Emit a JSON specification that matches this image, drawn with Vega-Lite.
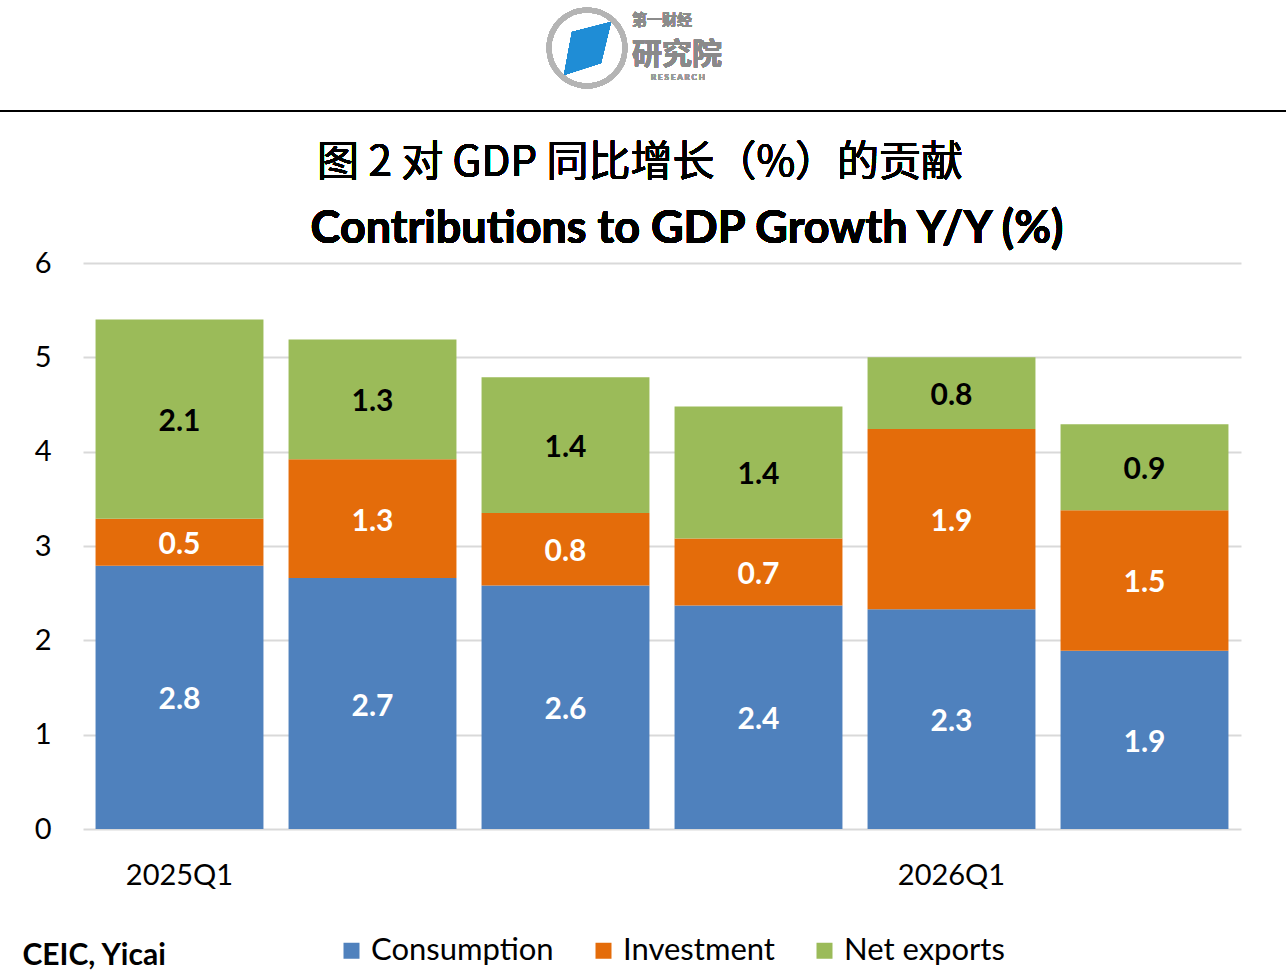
{
  "$schema": "https://vega.github.io/schema/vega-lite/v6.json",
  "autosize": {"type": "none"},
  "padding": {"left": 83, "top": 263, "right": 45, "bottom": 149},
  "width": 1158,
  "height": 566,
  "background": "white",
  "config": {
    "view": {"stroke": null},
    "font": "Lato"
  },
  "data": {
    "values": [
      {"quarter": "2025Q1", "series": "Consumption", "value": 2.79},
      {"quarter": "2025Q1", "series": "Investment", "value": 0.50},
      {"quarter": "2025Q1", "series": "Net exports", "value": 2.11},
      {"quarter": "2025Q2", "series": "Consumption", "value": 2.66},
      {"quarter": "2025Q2", "series": "Investment", "value": 1.26},
      {"quarter": "2025Q2", "series": "Net exports", "value": 1.27},
      {"quarter": "2025Q3", "series": "Consumption", "value": 2.58},
      {"quarter": "2025Q3", "series": "Investment", "value": 0.77},
      {"quarter": "2025Q3", "series": "Net exports", "value": 1.44},
      {"quarter": "2025Q4", "series": "Consumption", "value": 2.37},
      {"quarter": "2025Q4", "series": "Investment", "value": 0.71},
      {"quarter": "2025Q4", "series": "Net exports", "value": 1.40},
      {"quarter": "2026Q1", "series": "Consumption", "value": 2.33},
      {"quarter": "2026Q1", "series": "Investment", "value": 1.91},
      {"quarter": "2026Q1", "series": "Net exports", "value": 0.76},
      {"quarter": "2026Q2", "series": "Consumption", "value": 1.89},
      {"quarter": "2026Q2", "series": "Investment", "value": 1.49},
      {"quarter": "2026Q2", "series": "Net exports", "value": 0.91}
    ]
  },
  "encoding": {
    "x": {
      "field": "quarter",
      "type": "ordinal",
      "scale": {"paddingInner": 0.13, "paddingOuter": 0.065},
      "axis": {
        "title": "CEIC, Yicai",
        "titleFont": "Lato",
        "titleFontSize": 30,
        "titleFontWeight": "bold",
        "titleColor": "#000000",
        "titleX": -61,
        "titleY": 126,
        "titleAlign": "left",
        "titleBaseline": "middle",
        "labelAngle": 0,
        "labelExpr": "indexof(datum.label, 'Q1') >= 0 ? datum.label : ''",
        "labelFont": "Lato",
        "labelFontSize": 29,
        "labelColor": "#000000",
        "labelPadding": 32,
        "ticks": false,
        "domain": false
      }
    }
  },
  "layer": [
    {
      "mark": {"type": "bar"},
      "encoding": {
        "y": {
          "field": "value",
          "type": "quantitative",
          "stack": "zero",
          "scale": {"domain": [0, 6], "nice": false},
          "axis": {
            "title": null,
            "values": [0, 1, 2, 3, 4, 5, 6],
            "format": "d",
            "grid": true,
            "gridColor": "#d9d9d9",
            "gridWidth": 2,
            "domain": false,
            "ticks": false,
            "labelFont": "Lato",
            "labelFontSize": 29,
            "labelColor": "#000000",
            "labelPadding": 32
          }
        },
        "order": {"field": "series", "type": "nominal", "sort": "ascending"},
        "color": {
          "field": "series",
          "type": "nominal",
          "scale": {
            "domain": ["Consumption", "Investment", "Net exports"],
            "range": ["#4f81bd", "#e46c0a", "#9bbb59"]
          },
          "legend": {
            "title": null,
            "orient": "none",
            "direction": "horizontal",
            "legendX": 253,
            "legendY": 672,
            "symbolType": "square",
            "symbolSize": 256,
            "symbolStrokeWidth": 0,
            "labelFont": "Lato",
            "labelFontSize": 31,
            "labelColor": "#000000",
            "labelLimit": 400,
            "labelOffset": 4,
            "columnPadding": 34,
            "padding": 0
          }
        }
      }
    },
    {
      "mark": {"type": "text", "font": "Lato", "fontSize": 30, "fontWeight": "bold", "baseline": "middle", "dy": 3},
      "encoding": {
        "y": {"field": "value", "type": "quantitative", "stack": "zero", "bandPosition": 0.5},
        "detail": {"field": "series"},
        "order": {"field": "series", "type": "nominal", "sort": "ascending"},
        "text": {"field": "value", "type": "quantitative", "format": ".1f"},
        "color": {
          "condition": {"test": "datum.series === 'Net exports'", "value": "#000000"},
          "value": "#ffffff"
        }
      }
    },
    {
      "mark": {"type": "rule", "color": "#000000", "strokeWidth": 2},
      "encoding": {
        "y": {"datum": 7.611},
        "x": {"datum": "2025Q1", "bandPosition": -0.569},
        "x2": {"datum": "2026Q2", "bandPosition": 1.343}
      }
    },
    {
      "mark": {"type": "point", "shape": "circle", "filled": false, "stroke": "#b4b4b4", "strokeWidth": 5, "size": 5776, "opacity": 1},
      "encoding": {
        "x": {"datum": "2025Q3", "bandPosition": 0.628},
        "y": {"datum": 8.28}
      }
    },
    {
      "mark": {"type": "point", "shape": "M-0.375,-0.4L0.6,-0.65L0.35,0.375L-0.575,0.675Z", "filled": true, "color": "#1f8dd6", "size": 6400, "opacity": 1},
      "encoding": {
        "x": {"datum": "2025Q3", "bandPosition": 0.628},
        "y": {"datum": 8.28}
      }
    },
    {
      "mark": {"type": "text", "font": "Noto Sans CJK SC", "fontSize": 15, "fontWeight": "bold", "color": "#8c8c8c"},
      "encoding": {
        "x": {"datum": "2025Q3", "bandPosition": 1.075},
        "y": {"datum": 8.58},
        "text": {"value": "第一财经"}
      }
    },
    {
      "mark": {"type": "text", "font": "Noto Sans CJK SC", "fontSize": 30, "fontWeight": "bold", "color": "#8a8a8a"},
      "encoding": {
        "x": {"datum": "2025Q4", "bandPosition": 0.015},
        "y": {"datum": 8.2},
        "text": {"value": "研究院"}
      }
    },
    {
      "mark": {"type": "text", "font": "Lato", "fontSize": 8, "fontWeight": "bold", "color": "#9a9a9a"},
      "encoding": {
        "x": {"datum": "2025Q4", "bandPosition": 0.02},
        "y": {"datum": 7.96},
        "text": {"value": "R  E  S  E  A  R  C  H"}
      }
    },
    {
      "mark": {"type": "text", "font": "Noto Sans CJK SC", "fontSize": 42, "color": "#000000"},
      "encoding": {
        "x": {"datum": "2025Q3", "bandPosition": 0.944},
        "y": {"datum": 7.06},
        "text": {"value": "图 2 对 GDP 同比增长（%）的贡献"}
      }
    },
    {
      "mark": {"type": "text", "font": "Lato", "fontSize": 45, "fontWeight": "bold", "color": "#000000"},
      "encoding": {
        "x": {"datum": "2025Q4", "bandPosition": 0.074},
        "y": {"datum": 6.36},
        "text": {"value": "Contributions to GDP Growth Y/Y (%)"}
      }
    }
  ]
}
